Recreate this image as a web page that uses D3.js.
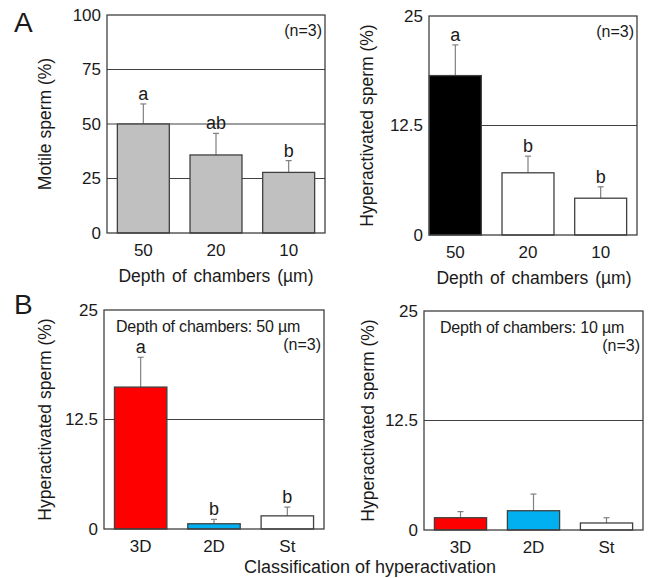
<!DOCTYPE html>
<html lang="en">
<head>
<meta charset="UTF-8">
<title>Sperm motility by chamber depth</title>
<script src="https://d3js.org/d3.v7.min.js"></script>
<style>
  body { margin: 0; background: #fff; }
  text { font-family: "Liberation Sans", Arial, sans-serif; fill: #1a1a1a; }
</style>
</head>
<body>
<svg width="649" height="578"></svg>
<script>
// data
var depthCats = ["50", "20", "10"];
var motileMean = [50, 35.8, 27.8];
var motileErr = [9.2, 9.9, 5.4];
var motileLetters = ["a", "ab", "b"];

var hyperMean = [18.2, 7.1, 4.2];
var hyperErr = [3.5, 1.9, 1.3];
var hyperLetters = ["a", "b", "b"];

var classCats = ["3D", "2D", "St"];
var hyper50Mean = [16.2, 0.6, 1.5];
var hyper50Err = [3.4, 0.5, 1.0];
var hyper50Letters = ["a", "b", "b"];
var hyper10Mean = [1.4, 2.2, 0.8];
var hyper10Err = [0.7, 1.9, 0.6];

var ticks100 = [0, 25, 50, 75, 100];
var ticks25 = [0, 12.5, 25];

var svg = d3.select("svg");
var lineCol = "#404040";
var fontFam = "'Liberation Sans', Arial, sans-serif";

function panel(o) {
  var g = svg.append("g");
  var x = d3.scaleBand().domain(o.cats).range(o.xr)
      .paddingInner(0.285).paddingOuter(0.1425);
  var y = d3.scaleLinear().domain([0, o.max]).range([o.y1, o.y0]);
  var rows = o.cats.map(function(c, i) {
    return {cat: c, v: o.mean[i], e: o.err[i], fill: o.fills[i], lab: o.letters ? o.letters[i] : ""};
  });

  // gridlines behind the bars
  g.selectAll(".grid").data(o.grid).enter().append("line")
    .attr("x1", o.fx0).attr("x2", o.fx1)
    .attr("y1", function(d) { return y(d); }).attr("y2", function(d) { return y(d); })
    .attr("stroke", lineCol).attr("stroke-width", 1.2);

  // error bars (upper half only)
  var eb = g.selectAll(".err").data(rows).enter().append("g");
  eb.append("line")
    .attr("x1", function(d) { return x(d.cat) + x.bandwidth() / 2; })
    .attr("x2", function(d) { return x(d.cat) + x.bandwidth() / 2; })
    .attr("y1", function(d) { return y(d.v); })
    .attr("y2", function(d) { return y(d.v + d.e); })
    .attr("stroke", "#808080").attr("stroke-width", 1.2);
  eb.append("line")
    .attr("x1", function(d) { return x(d.cat) + x.bandwidth() / 2 - 3; })
    .attr("x2", function(d) { return x(d.cat) + x.bandwidth() / 2 + 3; })
    .attr("y1", function(d) { return y(d.v + d.e); })
    .attr("y2", function(d) { return y(d.v + d.e); })
    .attr("stroke", "#808080").attr("stroke-width", 1.2);

  g.selectAll(".bar").data(rows).enter().append("rect")
    .attr("x", function(d) { return x(d.cat); })
    .attr("y", function(d) { return y(d.v); })
    .attr("width", x.bandwidth())
    .attr("height", function(d) { return y(0) - y(d.v); })
    .attr("fill", function(d) { return d.fill; })
    .attr("stroke", lineCol).attr("stroke-width", 1.3);

  // significance letters
  g.selectAll(".sig").data(rows).enter().append("text")
    .attr("x", function(d) { return x(d.cat) + x.bandwidth() / 2; })
    .attr("y", function(d) { return y(d.v + d.e) - 4; })
    .attr("text-anchor", "middle").style("font-size", "18px")
    .text(function(d) { return d.lab; });

  // frame
  g.append("rect").attr("x", o.fx0).attr("y", o.y0)
    .attr("width", o.fx1 - o.fx0).attr("height", o.y1 - o.y0)
    .attr("fill", "none").attr("stroke", lineCol).attr("stroke-width", 1.3);

  // y axis tick labels
  var ya = g.append("g").attr("transform", "translate(" + o.fx0 + ",0)")
    .call(d3.axisLeft(y).tickValues(o.ticks).tickSize(0).tickPadding(6)
      .tickFormat(function(d) { return String(d); }));
  ya.select(".domain").remove();
  ya.selectAll("text").style("font-size", "17px").attr("fill", "#1a1a1a")
    .style("font-family", fontFam);

  // x axis tick labels
  var xa = g.append("g").attr("transform", "translate(0," + o.y1 + ")")
    .call(d3.axisBottom(x).tickSize(0).tickPadding(11));
  xa.select(".domain").remove();
  xa.selectAll("text").style("font-size", "17px").attr("fill", "#1a1a1a")
    .style("font-family", fontFam);

  // y title
  g.append("text")
    .attr("transform", "translate(" + o.ytx + "," + (o.y0 + o.y1) / 2 + ") rotate(-90)")
    .attr("text-anchor", "middle").attr("dy", "0.35em").style("font-size", "17.5px")
    .text(o.ytitle);

  if (o.xtitle) {
    g.append("text").attr("x", o.xtc).attr("y", o.y1 + 49)
      .attr("text-anchor", "middle").style("font-size", "17.5px").style("word-spacing", "2px")
      .text(o.xtitle);
  }
  if (o.inner) {
    g.append("text").attr("x", o.itc).attr("y", o.y0 + 22)
      .attr("text-anchor", "middle").style("font-size", "16px").style("letter-spacing", "-0.2px")
      .text(o.inner);
  }
  g.append("text").attr("x", o.fx1 - 3).attr("y", o.y0 + (o.inner ? 40 : 21))
    .attr("text-anchor", "end").style("font-size", "16px")
    .text("(n=3)");
}

panel({cats: depthCats, mean: motileMean, err: motileErr, letters: motileLetters,
  fills: ["#c0c0c0", "#c0c0c0", "#c0c0c0"], max: 100, ticks: ticks100, grid: [25, 50, 75],
  xr: [107, 325], fx0: 107, fx1: 325, y0: 15, y1: 233, ytx: 45, xtc: 216,
  ytitle: "Motile sperm (%)", xtitle: "Depth of chambers (µm)"});

panel({cats: depthCats, mean: hyperMean, err: hyperErr, letters: hyperLetters,
  fills: ["#000000", "#ffffff", "#ffffff"], max: 25, ticks: ticks25, grid: [12.5],
  xr: [419, 637], fx0: 429, fx1: 637, y0: 16, y1: 235, ytx: 367, xtc: 534,
  ytitle: "Hyperactivated sperm (%)", xtitle: "Depth of chambers (µm)"});

panel({cats: classCats, mean: hyper50Mean, err: hyper50Err, letters: hyper50Letters,
  fills: ["#ff0000", "#00b0f0", "#ffffff"], max: 25, ticks: ticks25, grid: [12.5],
  xr: [104, 324], fx0: 104, fx1: 324, y0: 310, y1: 529, ytx: 45, itc: 208,
  ytitle: "Hyperactivated sperm (%)", inner: "Depth of chambers: 50 µm"});

panel({cats: classCats, mean: hyper10Mean, err: hyper10Err, letters: null,
  fills: ["#ff0000", "#00b0f0", "#ffffff"], max: 25, ticks: ticks25, grid: [12.5],
  xr: [424, 643], fx0: 424, fx1: 643, y0: 311, y1: 530, ytx: 368, itc: 532,
  ytitle: "Hyperactivated sperm (%)", inner: "Depth of chambers: 10 µm"});

svg.append("text").attr("x", 370).attr("y", 573).attr("text-anchor", "middle")
  .style("font-size", "18px").text("Classification of hyperactivation");

svg.append("text").attr("x", 14).attr("y", 32).style("font-size", "28px").text("A");
svg.append("text").attr("x", 14).attr("y", 314).style("font-size", "28px").text("B");
</script>
</body>
</html>
